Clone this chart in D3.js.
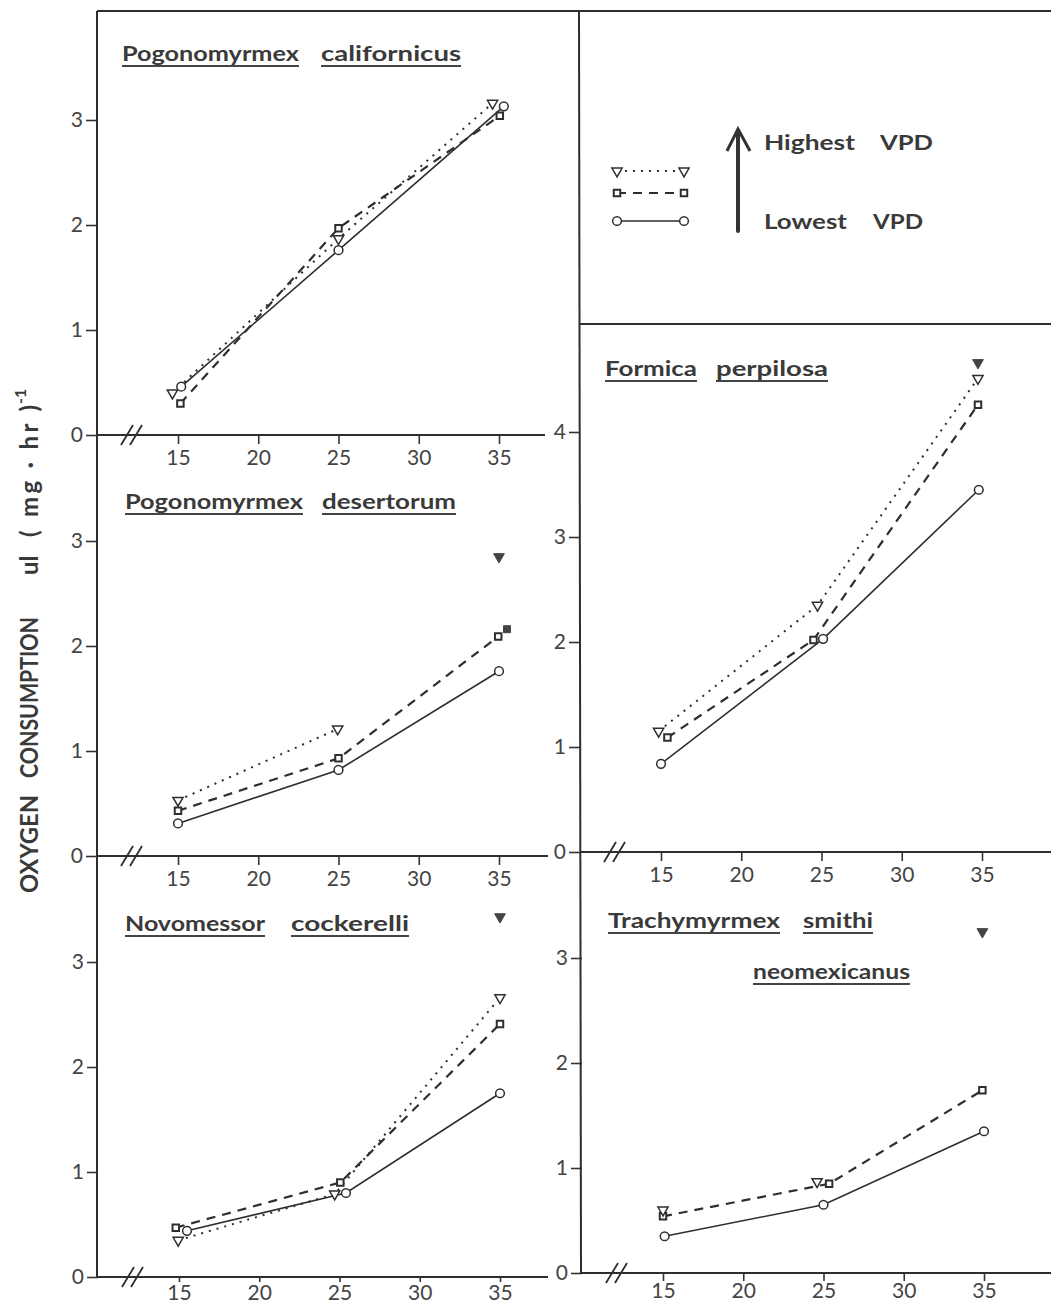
<!DOCTYPE html>
<html>
<head>
<meta charset="utf-8">
<script src="https://cdn.jsdelivr.net/npm/d3@7"></script>
<style>
  body { margin: 0; background: #fff; }
  svg { display: block; }
  .tick text { font-family: Lato, "Open Sans", sans-serif; font-size: 21px; fill: #444; }
  .tick line { stroke: #333; stroke-width: 1.6; }
  .title { font-family: Lato, sans-serif; font-weight: 700; font-size: 20px; fill: #3a3a3a; }
</style>
</head>
<body>
<div id="chart"></div>
<script>
// temperature ticks and oxygen ticks
const xTicks = [15, 20, 25, 30, 35]
const yTicks3 = [0, 1, 2, 3]
const yTicks4 = [0, 1, 2, 3, 4]

// [temperature, ul O2 / (mg*hr)]
// high = highest VPD (triangles), mid = squares, low = lowest VPD (circles)
const californicusHigh = [[14.65, 0.40], [25, 1.87], [34.6, 3.16]]
const californicusMid  = [[15.15, 0.30], [25, 1.97], [35.05, 3.04]]
const californicusLow  = [[15.2, 0.46], [25, 1.76], [35.3, 3.13]]

const desertorumHigh = [[15, 0.53], [24.95, 1.21]]
const desertorumMid  = [[15, 0.43], [25, 0.93], [34.95, 2.09]]
const desertorumLow  = [[15, 0.31], [25, 0.82], [35, 1.76]]
const desertorumHighFilled = [[35, 2.85]]
const desertorumMidFilled  = [[35.5, 2.16]]

const cockerelliHigh = [[14.95, 0.35], [24.7, 0.79], [35, 2.66]]
const cockerelliMid  = [[14.8, 0.47], [25.05, 0.90], [35, 2.41]]
const cockerelliLow  = [[15.5, 0.44], [25.4, 0.80], [35, 1.75]]
const cockerelliHighFilled = [[35, 3.43]]

const formicaHigh = [[14.85, 1.15], [24.75, 2.35], [34.75, 4.51]]
const formicaMid  = [[15.4, 1.09], [24.5, 2.02], [34.75, 4.26]]
const formicaLow  = [[15, 0.84], [25.1, 2.03], [34.8, 3.45]]
const formicaHighFilled = [[34.75, 4.66]]

const trachyHigh = [[15, 0.60], [24.6, 0.87]]
const trachyMid  = [[15, 0.54], [25.35, 0.85], [34.9, 1.74]]
const trachyLow  = [[15.1, 0.35], [25, 0.65], [35, 1.35]]
const trachyHighFilled = [[34.9, 3.25]]

const ink = "#2e2e2e"
const W = 1051, H = 1309

const svg = d3.select("#chart").append("svg").attr("width", W).attr("height", H)

// panel layout (px)
const panels = [
  { axisX: 97, y0: 435, end: 545, yTicks: yTicks3, tick: 9, pad: 6,
    high: californicusHigh, mid: californicusMid, low: californicusLow,
    words: [["Pogonomyrmex", 122, 177, 61], ["californicus", 321, 140, 61]] },
  { axisX: 97, y0: 856, end: 548, yTicks: yTicks3, tick: 9, pad: 6,
    high: desertorumHigh, mid: desertorumMid, low: desertorumLow,
    highFilled: desertorumHighFilled, midFilled: desertorumMidFilled,
    words: [["Pogonomyrmex", 125, 178, 509], ["desertorum", 322, 134, 509]] },
  { axisX: 98, y0: 1277, end: 548, yTicks: yTicks3, tick: 5, pad: 3,
    high: cockerelliHigh, mid: cockerelliMid, low: cockerelliLow,
    highFilled: cockerelliHighFilled,
    words: [["Novomessor", 125, 140, 931], ["cockerelli", 291, 118, 931]] },
  { axisX: 580, y0: 852, end: W, yTicks: yTicks4, tick: 9, pad: 6,
    high: formicaHigh, mid: formicaMid, low: formicaLow,
    highFilled: formicaHighFilled,
    words: [["Formica", 605, 92, 376], ["perpilosa", 716, 112, 376]] },
  { axisX: 582, y0: 1273, end: W, yTicks: yTicks3, tick: 8, pad: 2,
    high: trachyHigh, mid: trachyMid, low: trachyLow,
    highFilled: trachyHighFilled, noHighLine: true,
    words: [["Trachymyrmex", 608, 172, 928], ["smithi", 803, 70, 928], ["neomexicanus", 753, 157, 979]] }
]

const styles = {
  high: { dash: "2,6", width: 2, sym: d3.symbolTriangle, size: 45, rot: 180 },
  mid:  { dash: "9,7", width: 2.2, sym: d3.symbolSquare, size: 42, rot: 0 },
  low:  { dash: null, width: 1.6, sym: d3.symbolCircle, size: 60, rot: 0 }
}

function frameLine(x1, y1, x2, y2, w) {
  svg.append("line").attr("x1", x1).attr("y1", y1).attr("x2", x2).attr("y2", y2)
    .attr("stroke", ink).attr("stroke-width", w || 2)
}

// outer frame and dividers
frameLine(97, 11, W, 11)
frameLine(97, 11, 97, 1277)
frameLine(579, 11, 581, 1273)
frameLine(579, 324, W, 324)

panels.forEach(p => {
  const x = d3.scaleLinear().domain([15, 35]).range([p.axisX + 81, p.axisX + 402])
  const y = d3.scaleLinear().domain([0, 1]).range([p.y0, p.y0 - 105])
  const g = svg.append("g")

  // x axis line with break mark
  g.append("line").attr("x1", p.axisX).attr("x2", p.end).attr("y1", p.y0).attr("y2", p.y0)
    .attr("stroke", ink).attr("stroke-width", 1.8)
  ;[0, 9].forEach(dx => {
    g.append("line")
      .attr("x1", p.axisX + 24 + dx).attr("y1", p.y0 + 10)
      .attr("x2", p.axisX + 36 + dx).attr("y2", p.y0 - 10)
      .attr("stroke", ink).attr("stroke-width", 1.8)
  })

  g.append("g").attr("transform", `translate(0,${p.y0})`)
    .call(d3.axisBottom(x).tickValues(xTicks).tickSize(p.tick).tickPadding(p.pad))
    .call(a => a.select(".domain").remove())

  g.append("g").attr("transform", `translate(${p.axisX},0)`)
    .call(d3.axisLeft(y).tickValues(p.yTicks).tickFormat(d3.format("d")).tickSize(11).tickPadding(3))
    .call(a => a.select(".domain").remove())

  // title words, underlined
  p.words.forEach(([w, wx, wl, wy]) => {
    g.append("text").attr("class", "title").attr("x", wx).attr("y", wy)
      .attr("textLength", wl).attr("lengthAdjust", "spacingAndGlyphs").text(w)
    g.append("line").attr("x1", wx).attr("x2", wx + wl).attr("y1", wy + 5).attr("y2", wy + 5)
      .attr("stroke", "#444").attr("stroke-width", 2)
  })

  const line = d3.line().x(d => x(d[0])).y(d => y(d[1]))
  ;["low", "mid", "high"].forEach(k => {
    if (k === "high" && p.noHighLine) return
    const s = styles[k]
    g.append("path").datum(p[k]).attr("d", line)
      .attr("fill", "none").attr("stroke", ink).attr("stroke-width", s.width)
      .attr("stroke-dasharray", s.dash)
  })
  ;["low", "mid", "high"].forEach(k => {
    const s = styles[k]
    g.selectAll(null).data(p[k]).join("path")
      .attr("transform", d => `translate(${x(d[0])},${y(d[1])}) rotate(${s.rot})`)
      .attr("d", d3.symbol().type(s.sym).size(s.size))
      .attr("fill", "#fff").attr("stroke", ink).attr("stroke-width", k === "mid" ? 2 : 1.5)
  })
  if (p.highFilled) {
    g.selectAll(null).data(p.highFilled).join("path")
      .attr("transform", d => `translate(${x(d[0])},${y(d[1])}) rotate(180)`)
      .attr("d", d3.symbol().type(d3.symbolTriangle).size(50))
      .attr("fill", "#444").attr("stroke", "#444").attr("stroke-width", 1)
  }
  if (p.midFilled) {
    g.selectAll(null).data(p.midFilled).join("path")
      .attr("transform", d => `translate(${x(d[0])},${y(d[1])})`)
      .attr("d", d3.symbol().type(d3.symbolSquare).size(49))
      .attr("fill", "#444").attr("stroke", "#444").attr("stroke-width", 1)
  }
})

// legend
const lg = svg.append("g")
const legendRows = [["high", 171], ["mid", 193], ["low", 221]]
legendRows.forEach(([k, ly]) => {
  const s = styles[k]
  lg.append("line").attr("x1", 617).attr("x2", 684).attr("y1", ly).attr("y2", ly)
    .attr("stroke", ink).attr("stroke-width", s.width).attr("stroke-dasharray", s.dash)
  ;[617, 684].forEach(lx => {
    lg.append("path").attr("transform", `translate(${lx},${ly}) rotate(${s.rot})`)
      .attr("d", d3.symbol().type(s.sym).size(s.size))
      .attr("fill", "#fff").attr("stroke", ink).attr("stroke-width", k === "mid" ? 2 : 1.5)
  })
})
lg.append("line").attr("x1", 738).attr("x2", 738).attr("y1", 231).attr("y2", 134)
  .attr("stroke", "#333").attr("stroke-width", 4).attr("stroke-linecap", "round")
lg.append("path").attr("d", "M727,151L738,129L750,151")
  .attr("fill", "none").attr("stroke", "#333").attr("stroke-width", 3)
const legendText = [["Highest", 764, 91, 150], ["VPD", 880, 53, 150], ["Lowest", 764, 83, 229], ["VPD", 873, 50, 229]]
legendText.forEach(([t, tx, tl, ty]) => {
  lg.append("text").attr("class", "title").attr("x", tx).attr("y", ty)
    .attr("font-size", 22).attr("textLength", tl).attr("lengthAdjust", "spacingAndGlyphs").text(t)
})

// y axis title, rotated
const yt = svg.append("g").attr("transform", "translate(38,893) rotate(-90)")
const yWords = [["OXYGEN", 0, 98], ["CONSUMPTION", 115, 161]]
yWords.forEach(([t, tx, tl]) => {
  yt.append("text").attr("x", tx).attr("y", 0).attr("textLength", tl)
    .attr("lengthAdjust", "spacingAndGlyphs")
    .attr("font-family", "Lato, sans-serif").attr("font-weight", 700).attr("font-size", 24)
    .attr("fill", "#3a3a3a").text(t)
})
const yUnits = [["ul", 318], ["(", 356]]
yUnits.forEach(([t, tx]) => {
  yt.append("text").attr("x", tx).attr("y", 0)
    .attr("font-family", "Lato, sans-serif").attr("font-weight", 700).attr("font-size", 24)
    .attr("fill", "#3a3a3a").text(t)
})
yt.append("text").attr("x", 376).attr("y", 0).attr("textLength", 112)
  .attr("lengthAdjust", "spacing")
  .attr("font-family", "Lato, sans-serif").attr("font-weight", 700).attr("font-size", 24)
  .attr("fill", "#3a3a3a").text("mg \u00b7 hr )")
yt.append("text").attr("x", 489).attr("y", -12)
  .attr("font-family", "Lato, sans-serif").attr("font-weight", 700).attr("font-size", 16)
  .attr("fill", "#3a3a3a").text("-1")
</script>
</body>
</html>
